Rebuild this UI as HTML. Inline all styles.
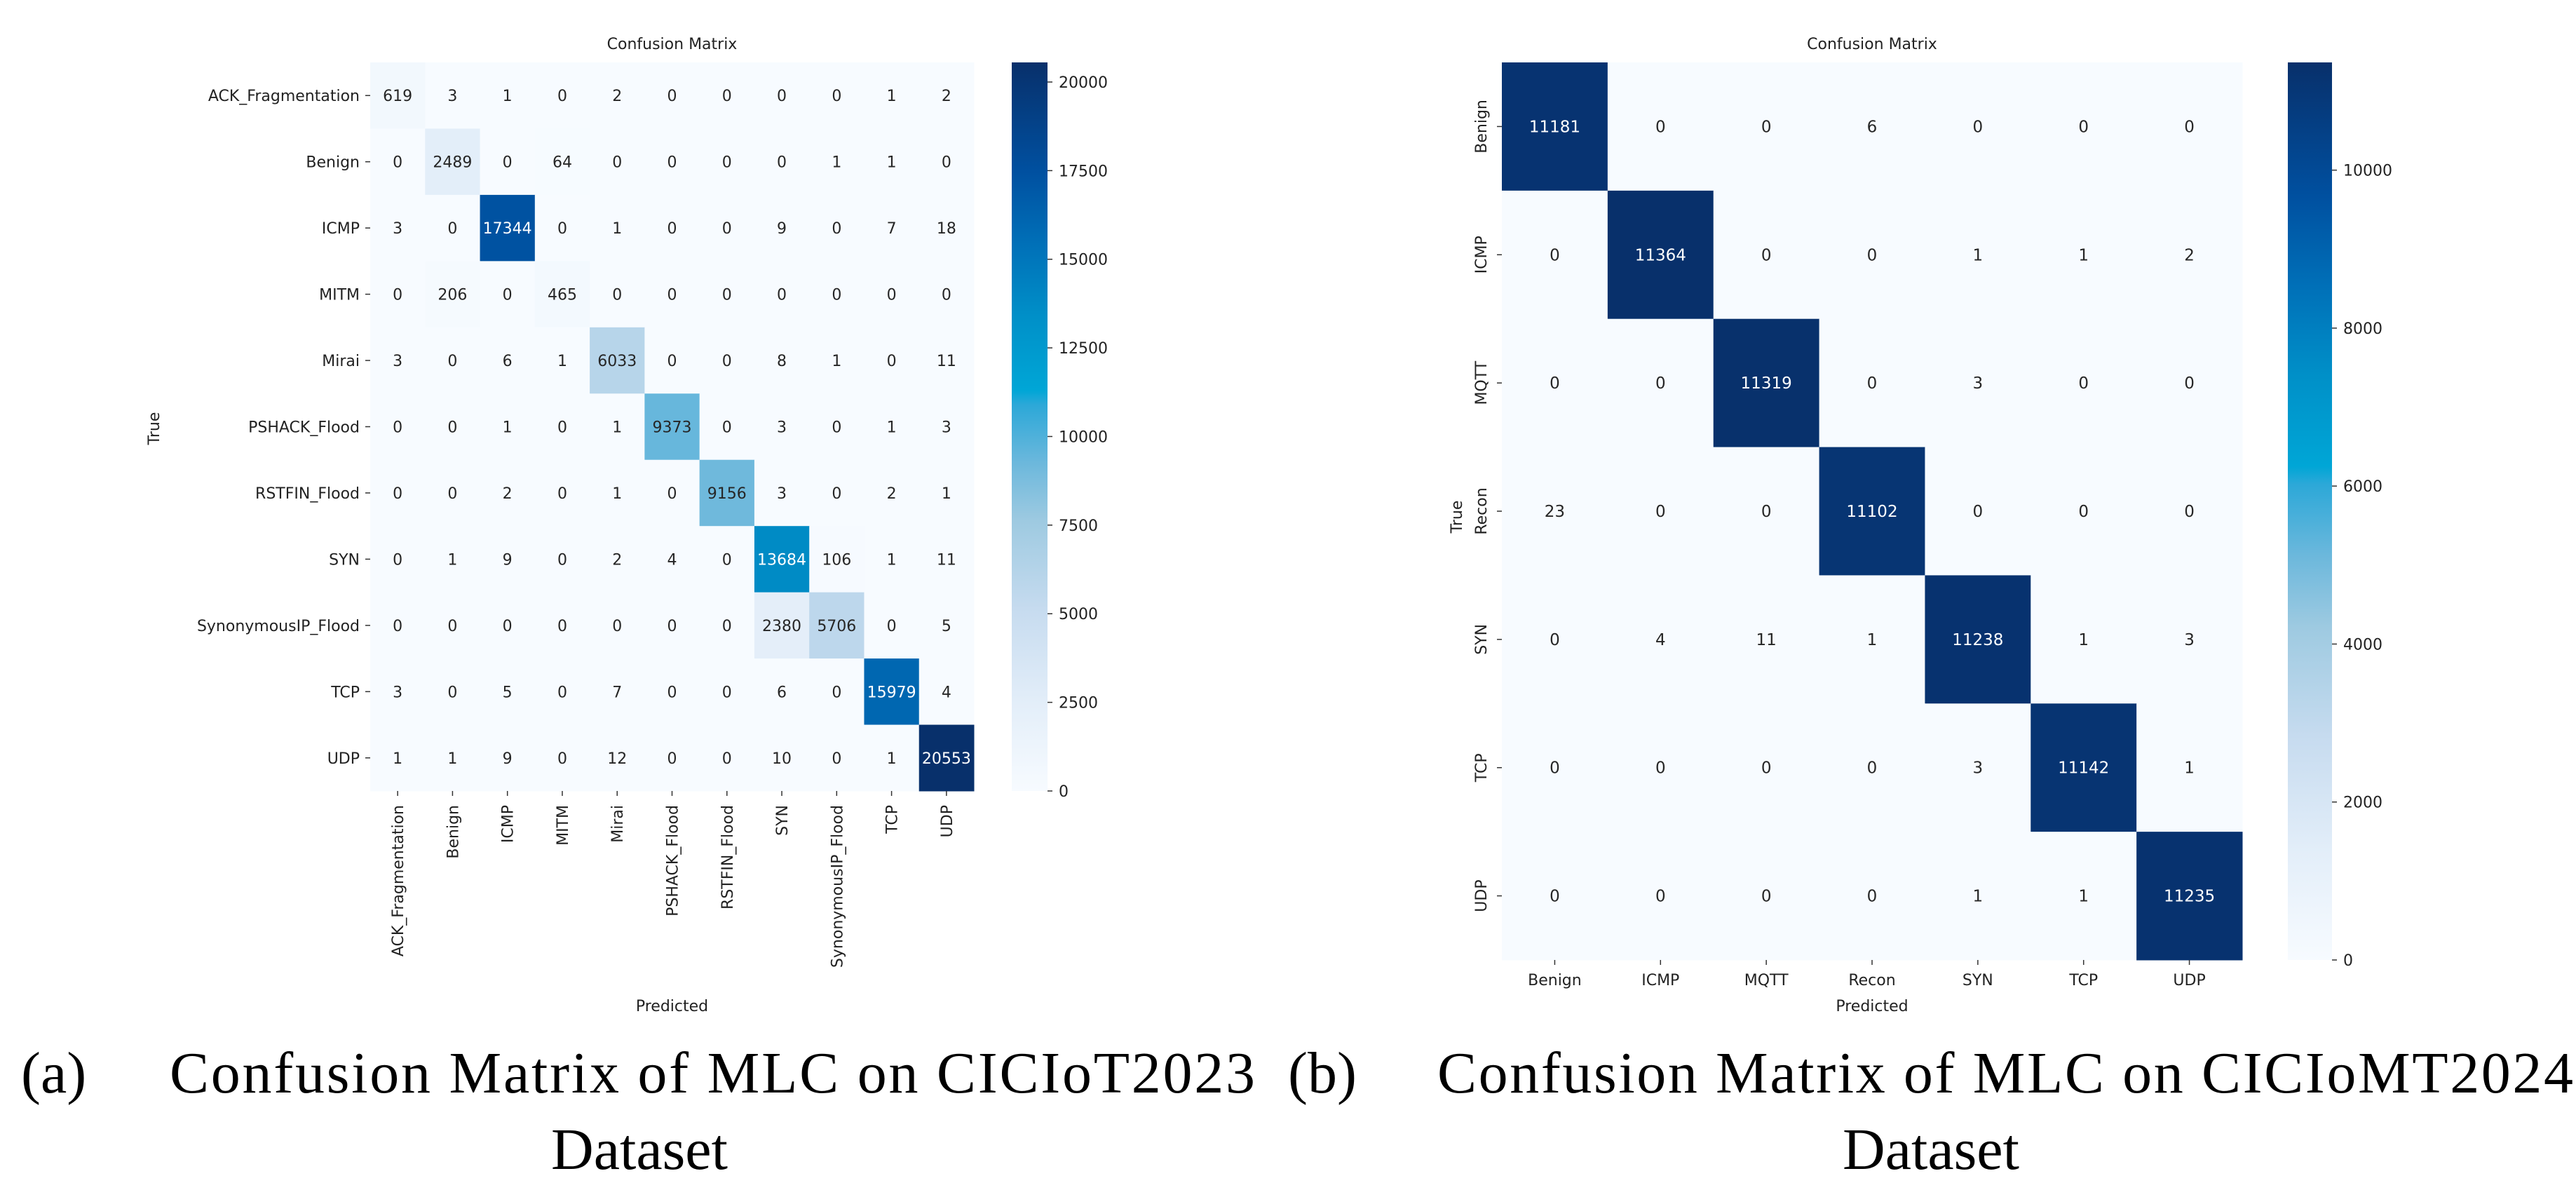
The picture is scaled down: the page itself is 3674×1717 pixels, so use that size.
<!DOCTYPE html>
<html><head><meta charset="utf-8">
<style>
html,body{margin:0;padding:0;background:#fff;}
svg{display:block;}
.t{font-family:"DejaVu Sans","Liberation Sans",sans-serif;font-size:22px;fill:#222;}
.c{font-family:"Liberation Serif",serif;font-size:84px;fill:#000;}
</style></head>
<body>
<svg id="root" width="3674" height="1717" viewBox="0 0 3674 1717" xmlns="http://www.w3.org/2000/svg">
<defs>
<linearGradient id="cbgrad" x1="0" y1="1" x2="0" y2="0">
<stop offset="0" stop-color="#f7fbff"/><stop offset="0.12" stop-color="#e3eef9"/>
<stop offset="0.25" stop-color="#c6dbef"/><stop offset="0.37" stop-color="#9ecae1"/>
<stop offset="0.45" stop-color="#6cb8dc"/><stop offset="0.53" stop-color="#2ca8d8"/>
<stop offset="0.55" stop-color="#00a6d6"/><stop offset="0.65" stop-color="#0090c8"/>
<stop offset="0.75" stop-color="#0070b8"/><stop offset="0.85" stop-color="#0050a0"/>
<stop offset="1" stop-color="#08306b"/>
</linearGradient>
</defs>
<g id="chartA"></g>
<g id="chartB"></g>
<text class="c" x="30" y="1558">(a)</text>
<text class="c" x="1016" y="1558" text-anchor="middle" textLength="1548">Confusion Matrix of MLC on CICIoT2023</text>
<text class="c" x="912" y="1667" text-anchor="middle">Dataset</text>
<text class="c" x="1837" y="1558">(b)</text>
<text class="c" x="2860" y="1558" text-anchor="middle" textLength="1620">Confusion Matrix of MLC on CICIoMT2024</text>
<text class="c" x="2754" y="1667" text-anchor="middle">Dataset</text>
</svg>
<script>
const labelsA = ["ACK_Fragmentation","Benign","ICMP","MITM","Mirai","PSHACK_Flood","RSTFIN_Flood","SYN","SynonymousIP_Flood","TCP","UDP"];
const valuesA = [
[619,3,1,0,2,0,0,0,0,1,2],
[0,2489,0,64,0,0,0,0,1,1,0],
[3,0,17344,0,1,0,0,9,0,7,18],
[0,206,0,465,0,0,0,0,0,0,0],
[3,0,6,1,6033,0,0,8,1,0,11],
[0,0,1,0,1,9373,0,3,0,1,3],
[0,0,2,0,1,0,9156,3,0,2,1],
[0,1,9,0,2,4,0,13684,106,1,11],
[0,0,0,0,0,0,0,2380,5706,0,5],
[3,0,5,0,7,0,0,6,0,15979,4],
[1,1,9,0,12,0,0,10,0,1,20553]];
const ticksA = [0,2500,5000,7500,10000,12500,15000,17500,20000];
const labelsB = ["Benign","ICMP","MQTT","Recon","SYN","TCP","UDP"];
const valuesB = [
[11181,0,0,6,0,0,0],
[0,11364,0,0,1,1,2],
[0,0,11319,0,3,0,0],
[23,0,0,11102,0,0,0],
[0,4,11,1,11238,1,3],
[0,0,0,0,3,11142,1],
[0,0,0,0,1,1,11235]];
const ticksB = [0,2000,4000,6000,8000,10000];

const stops=[[0,"#f7fbff"],[0.12,"#e3eef9"],[0.25,"#c6dbef"],[0.37,"#9ecae1"],[0.45,"#6cb8dc"],[0.53,"#2ca8d8"],[0.55,"#00a6d6"],[0.65,"#0090c8"],[0.75,"#0070b8"],[0.85,"#0050a0"],[1,"#08306b"]];
function hex(h){return [1,3,5].map(i=>parseInt(h.substr(i,2),16));}
function cmap(t){t=Math.max(0,Math.min(1,t));for(let i=1;i<stops.length;i++){if(t<=stops[i][0]){const a=stops[i-1],b=stops[i];const f=(t-a[0])/(b[0]-a[0]);const A=hex(a[1]),B=hex(b[1]);return "rgb("+A.map((v,k)=>Math.round(v+(B[k]-v)*f)).join(",")+")";}}return stops[stops.length-1][1];}
const NS="http://www.w3.org/2000/svg";
function mk(parent,tag,attrs,text){const e=document.createElementNS(NS,tag);for(const k in attrs)e.setAttribute(k,attrs[k]);if(text!==undefined)e.textContent=text;parent.appendChild(e);return e;}

function draw(g,labels,values,ticks,cfg){
  const n=labels.length;
  const max=Math.max(...values.flat());
  const cw=(cfg.x1-cfg.x0)/n, ch=(cfg.y1-cfg.y0)/n;
  const xs=i=>cfg.x0+i*cw, ys=i=>cfg.y0+i*ch;
  values.forEach((row,r)=>row.forEach((v,c)=>{
    const t=v/max;
    const rect=mk(g,"rect",{x:xs(c),y:ys(r),width:cw+0.5,height:ch+0.5,fill:cmap(t)});
    
    
    const tx=mk(g,"text",{class:"t",x:xs(c)+cw/2,y:ys(r)+ch/2+8,"text-anchor":"middle",style:"font-size:"+cfg.fs+"px;fill:"+(t>0.6?"#fff":"#262626")},String(v));
    
    
  }));
  labels.forEach((l,i)=>{
    const cy=ys(i)+ch/2, cx=xs(i)+cw/2;
    mk(g,"line",{x1:cfg.x0-7,x2:cfg.x0,y1:cy,y2:cy,stroke:"#333","stroke-width":1.5});
    let yl;
    if(cfg.rotY){yl=mk(g,"text",{class:"t",x:cfg.x0-22,y:cy,"text-anchor":"middle",transform:"rotate(-90 "+(cfg.x0-22)+" "+cy+")"},l);}
    else{yl=mk(g,"text",{class:"t",x:cfg.x0-15,y:cy+8,"text-anchor":"end"},l);}
    
    
    mk(g,"line",{x1:cx,x2:cx,y1:cfg.y1,y2:cfg.y1+7,stroke:"#333","stroke-width":1.5});
    let xl;
    if(cfg.rotX){xl=mk(g,"text",{class:"t",x:cx+8,y:cfg.y1+20,"text-anchor":"end",transform:"rotate(-90 "+(cx+8)+" "+(cfg.y1+20)+")"},l);}
    else{xl=mk(g,"text",{class:"t",x:cx,y:cfg.y1+36,"text-anchor":"middle"},l);}
    
    
  });
  const cb=mk(g,"rect",{x:cfg.cb0,y:cfg.y0,width:cfg.cb1-cfg.cb0,height:cfg.y1-cfg.y0,fill:"url(#cbgrad)"});
  
  
  ticks.forEach(v=>{
    const y=cfg.y1-(v/max)*(cfg.y1-cfg.y0);
    mk(g,"line",{x1:cfg.cb1,x2:cfg.cb1+7,y1:y,y2:y,stroke:"#333","stroke-width":1.5});
    const tl=mk(g,"text",{class:"t",x:cfg.cb1+16,y:y+8},String(v));
    
    
  });
  const tt=mk(g,"text",{class:"t",x:(cfg.x0+cfg.x1)/2,y:cfg.titleY,"text-anchor":"middle","font-size":"24"},"Confusion Matrix");
  
  
  const px=mk(g,"text",{class:"t",x:(cfg.x0+cfg.x1)/2,y:cfg.predY,"text-anchor":"middle"},"Predicted");
  
  
  const ty=mk(g,"text",{class:"t",x:cfg.trueX,y:cfg.trueY,"text-anchor":"middle",transform:"rotate(-90 "+cfg.trueX+" "+cfg.trueY+")"},"True");
  
  
}
draw(document.getElementById("chartA"),labelsA,valuesA,ticksA,{x0:528,x1:1389,y0:89,y1:1128,cb0:1443,cb1:1494,fs:22,rotY:false,rotX:true,titleY:70,predY:1442,trueX:227,trueY:611});
draw(document.getElementById("chartB"),labelsB,valuesB,ticksB,{x0:2142,x1:3198,y0:89,y1:1369,cb0:3263,cb1:3326,fs:23,rotY:true,rotX:false,titleY:70,predY:1442,trueX:2085,trueY:737});
</script>
</body></html>
